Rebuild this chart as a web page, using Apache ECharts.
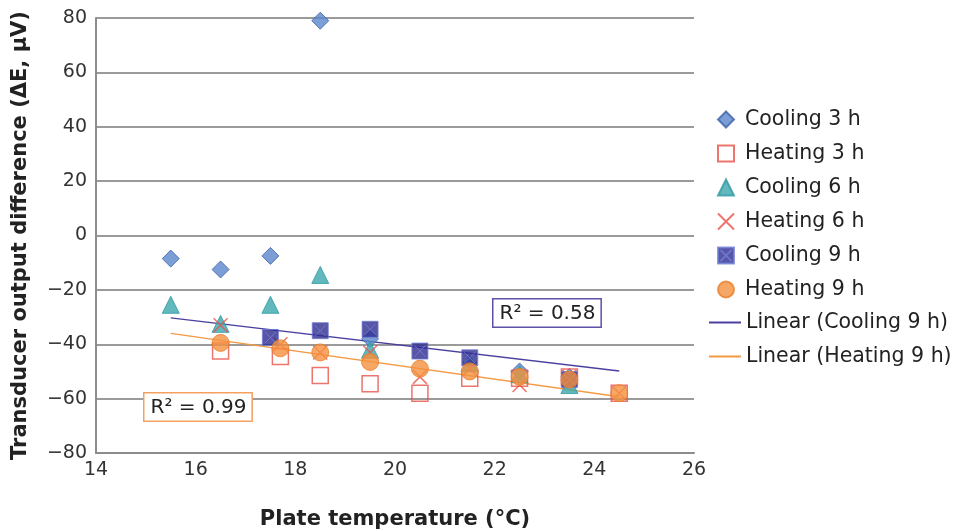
<!DOCTYPE html>
<html>
<head>
<meta charset="utf-8">
<script src="https://cdn.jsdelivr.net/npm/echarts@6/dist/echarts.min.js"></script>
<style>html,body{margin:0;padding:0;background:#fff}#c{width:959px;height:531px}</style>
</head>
<body>
<div id="c"></div>
<script>
// ---- data ----
const coolingTemp3 = [15.5, 16.5, 17.5, 18.5, 19.5, 22.5, 23.5];
const cooling3     = [-8.5, -12.5, -7.5, 79, -38, -50, -52];

const heatingTemp  = [16.5, 17.7, 18.5, 19.5, 20.5, 21.5, 22.5, 23.5, 24.5];
const heating3     = [-42.5, -44.5, -51.5, -54.5, -58, -52.5, -52.5, -52, -58];
const heating6     = [-33, -40, -43, -43, -52, -49, -55, -52, -58];
const heating9     = [-39.5, -41.5, -43, -46.5, -49, -50, -52, -53, -58];

const coolingTemp6 = [15.5, 16.5, 17.5, 18.5, 19.5, 21.5, 22.5, 23.5];
const cooling6     = [-25.5, -32.5, -25.5, -14.5, -42, -47, -51, -55];

const coolingTemp9 = [17.5, 18.5, 19.5, 20.5, 21.5, 23.5];
const cooling9     = [-37.5, -35, -34.5, -42.5, -45, -53];

const trendTemp    = [15.5, 24.5];
const coolTrend9   = [-30.3, -49.8];
const heatTrend9   = [-36.0, -59.3];

const seriesNames = ['Cooling 3 h','Heating 3 h','Cooling 6 h','Heating 6 h','Cooling 9 h','Heating 9 h','Linear (Cooling 9 h)','Linear (Heating 9 h)'];
const r2Labels = ['R\u00b2 = 0.58', 'R\u00b2 = 0.99'];

const xTicks = {min: 14, max: 26, interval: 2};
const yTicks = {min: -80, max: 80, interval: 20};

function pairs(xs, ys){ return xs.map((x,i)=>[x, ys[i]]); }

const FONT = '"DejaVu Sans", Verdana, sans-serif';
const chart = echarts.init(document.getElementById('c'), null, {renderer:'canvas'});
const crossPath = 'path://M0,0L10,10M10,0L0,10';
const sqCross = 'path://M0,0L10,0L10,10L0,10ZM1.5,1.5L8.5,8.5M8.5,1.5L1.5,8.5';
const legendText = {fontFamily: FONT, fontSize: 20.5, color: '#222'};

chart.setOption({
  animation: false,
  backgroundColor: '#fff',
  grid: {left: 96, right: 265, top: 18, bottom: 78, containLabel: false, outerBoundsMode: 'none'},
  xAxis: {
    type: 'value', min: xTicks.min, max: xTicks.max, interval: xTicks.interval,
    name: 'Plate temperature (\u00b0C)', nameLocation: 'middle', nameGap: 56,
    nameTextStyle: {fontFamily: FONT, fontWeight: 'bold', fontSize: 21, color: '#222'},
    axisLine: {show: true, onZero: false, lineStyle: {color: '#8c8c8c', width: 2}},
    axisTick: {show: false},
    splitLine: {show: false},
    axisLabel: {fontFamily: FONT, fontSize: 19, color: '#333', margin: 8}
  },
  yAxis: {
    type: 'value', min: yTicks.min, max: yTicks.max, interval: yTicks.interval,
    name: 'Transducer output difference (\u0394E, \u00b5V)', nameLocation: 'middle', nameGap: 65,
    nameTextStyle: {fontFamily: FONT, fontWeight: 'bold', fontSize: 21, color: '#222'},
    axisLine: {show: true, onZero: false, lineStyle: {color: '#8c8c8c', width: 2}},
    axisTick: {show: false},
    splitLine: {show: true, lineStyle: {color: '#9a9a9a', width: 2}},
    axisLabel: {fontFamily: FONT, fontSize: 19, color: '#333', margin: 9,
      formatter: v => String(v).replace('-', '\u2212')}
  },
  legend: [
    {
      orient: 'vertical', left: 717, top: 109, padding: 0, itemWidth: 16, itemHeight: 16, itemGap: 13,
      textStyle: Object.assign({padding: [0, 0, 0, 6]}, legendText),
      data: seriesNames.slice(0, 6)
    },
    {
      orient: 'vertical', left: 709, top: 312, padding: 0, itemWidth: 32, itemHeight: 2, itemGap: 13,
      icon: 'rect',
      textStyle: Object.assign({padding: [0, 0, 0, 0]}, legendText),
      data: seriesNames.slice(6)
    }
  ],
  series: [
    {name: seriesNames[0], type: 'scatter', data: pairs(coolingTemp3, cooling3), symbol: 'diamond', symbolSize: 17,
      itemStyle: {color: '#5a86cc', borderColor: '#3d62a8', borderWidth: 1}},
    {name: seriesNames[1], type: 'scatter', data: pairs(heatingTemp, heating3), symbol: 'rect', symbolSize: 16,
      itemStyle: {color: 'rgba(255,255,255,0)', borderColor: '#e8524a', borderWidth: 1.5}},
    {name: seriesNames[2], type: 'scatter', data: pairs(coolingTemp6, cooling6), symbol: 'triangle', symbolSize: 17,
      itemStyle: {color: '#3aa6ad', borderColor: '#2f9aa0', borderWidth: 1}},
    {name: seriesNames[3], type: 'scatter', data: pairs(heatingTemp, heating6), symbol: crossPath, symbolSize: 14,
      itemStyle: {color: 'rgba(0,0,0,0)', borderColor: '#e8524a', borderWidth: 1.5}},
    {name: seriesNames[4], type: 'scatter', data: pairs(coolingTemp9, cooling9), symbol: sqCross, symbolSize: 16,
      itemStyle: {color: '#2e2a8e', borderColor: '#6f7fd6', borderWidth: 1}},
    {name: seriesNames[5], type: 'scatter', data: pairs(heatingTemp, heating9), symbol: 'circle', symbolSize: 17,
      itemStyle: {color: '#f5913e', borderColor: '#e87f2a', borderWidth: 1}},
    {name: seriesNames[6], type: 'line', data: pairs(trendTemp, coolTrend9), symbol: 'none', z: 1,
      lineStyle: {color: '#4a40a0', width: 1.5}, itemStyle: {color: '#4a40a0'}},
    {name: seriesNames[7], type: 'line', data: pairs(trendTemp, heatTrend9), symbol: 'none', z: 1,
      lineStyle: {color: '#f39a45', width: 1.5}, itemStyle: {color: '#f39a45'}}
  ],
  graphic: [
    {type: 'text', left: 492, top: 298, z: 100,
      style: {text: r2Labels[0], font: '20px ' + FONT, fill: '#222', backgroundColor: '#fff',
        borderColor: '#5b52a8', borderWidth: 1.5, padding: [4, 5, 3, 6]}},
    {type: 'text', left: 143, top: 392, z: 100,
      style: {text: r2Labels[1], font: '20px ' + FONT, fill: '#222', backgroundColor: '#fff',
        borderColor: '#f3a060', borderWidth: 1.5, padding: [4, 5, 3, 6]}}
  ]
});
</script>
</body>
</html>
